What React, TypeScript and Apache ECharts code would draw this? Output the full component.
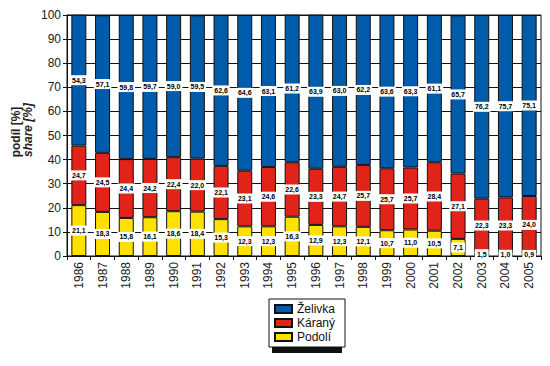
import React, { useEffect, useRef } from "react";
import * as echarts from "echarts";

const years = ["1986","1987","1988","1989","1990","1991","1992","1993","1994","1995","1996","1997","1998","1999","2000","2001","2002","2003","2004","2005"];
const podoli = [21.1,18.3,15.8,16.1,18.6,18.4,15.3,12.3,12.3,16.3,12.9,12.3,12.1,10.7,11.0,10.5,7.1,1.5,1.0,0.9];
const karany = [24.7,24.5,24.4,24.2,22.4,22.0,22.1,23.1,24.6,22.6,23.3,24.7,25.7,25.7,25.7,28.4,27.1,22.3,23.3,24.0];
const zelivka = [54.3,57.1,59.8,59.7,59.0,59.5,62.6,64.6,63.1,61.2,63.9,63.0,62.2,63.6,63.3,61.1,65.7,76.2,75.7,75.1];
const yTicks = [0,10,20,30,40,50,60,70,80,90,100];

const FONT = "Liberation Sans, Arial, sans-serif";

export default function App() {
  const ref = useRef<HTMLDivElement>(null);
  useEffect(() => {
    if (!ref.current) return;
    const chart = echarts.init(ref.current, null, { renderer: "svg" });
    const label = {
      show: true,
      position: "inside",
      formatter: (p: any) => Number(p.value).toFixed(1).replace(".", ","),
      fontSize: 7,
      fontWeight: "bold",
      fontFamily: FONT,
      color: "#000",
      backgroundColor: "#fff",
      padding: [2, 2, 1, 2],
    };
    const mk = (name: string, data: number[], color: string) => ({
      name,
      type: "bar",
      stack: "s",
      data,
      barWidth: 15,
      itemStyle: { color, borderColor: "#111", borderWidth: 1 },
      label,
    });
    chart.setOption({
      animation: false,
      textStyle: { fontFamily: FONT },
      grid: {
        left: 67, right: 9, top: 15, bottom: 110,
        show: true, borderColor: "#111", borderWidth: 1, backgroundColor: "#fff",
      },
      xAxis: {
        type: "category",
        data: years,
        axisLine: { lineStyle: { color: "#111", width: 1 } },
        axisTick: { show: true, length: 4, alignWithLabel: false, lineStyle: { color: "#111" } },
        axisLabel: { rotate: 90, fontSize: 12, color: "#222", margin: 6, fontFamily: FONT },
      },
      yAxis: {
        type: "value",
        min: yTicks[0],
        max: yTicks[yTicks.length - 1],
        interval: 10,
        axisLine: { show: true, lineStyle: { color: "#111", width: 1 } },
        axisTick: { show: true, length: 4, lineStyle: { color: "#111" } },
        axisLabel: { fontSize: 12, color: "#222", margin: 6, fontFamily: FONT },
        splitLine: { show: true, lineStyle: { color: "#111", width: 1 } },
      },
      legend: {
        orient: "vertical",
        left: 269,
        top: 299,
        data: ["Želivka", "Káraný", "Podolí"],
        icon: "rect",
        itemWidth: 17,
        itemHeight: 8,
        itemGap: 2,
        padding: [4, 10, 4, 5],
        backgroundColor: "#fff",
        borderColor: "#111",
        borderWidth: 1,
        textStyle: { fontSize: 12, color: "#111", fontFamily: FONT },
      },
      graphic: [
        { type: "rect", z: 0, shape: { x: 272, y: 302, width: 70, height: 51 }, style: { fill: "#111" } },
        {
          type: "text", x: 16, y: 132, rotation: Math.PI / 2,
          style: { text: "podíl [%]", font: `bold 12px ${FONT}`, fill: "#222", align: "center", verticalAlign: "middle" },
        },
        {
          type: "text", x: 28, y: 130, rotation: Math.PI / 2,
          style: { text: "share [%]", font: `italic bold 12px ${FONT}`, fill: "#222", align: "center", verticalAlign: "middle" },
        },
      ],
      series: [
        mk("Podolí", podoli, "#FFE100"),
        mk("Káraný", karany, "#E2231A"),
        mk("Želivka", zelivka, "#005BAA"),
      ],
    });
    return () => chart.dispose();
  }, []);
  return <div ref={ref} style={{ position: "fixed", left: 0, top: 0, width: 550, height: 366, background: "#fff" }} />;
}
